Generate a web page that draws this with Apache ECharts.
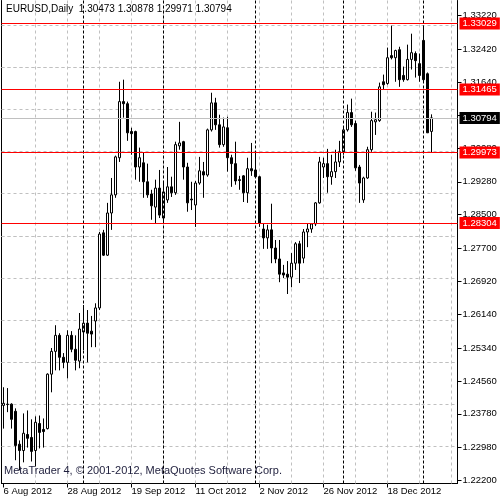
<!DOCTYPE html>
<html><head><meta charset="utf-8">
<script src="https://cdn.jsdelivr.net/npm/echarts/dist/echarts.min.js"></script>
<style>html,body{margin:0;padding:0;background:#fff}#c{width:500px;height:500px}</style>
</head><body><div id="c"></div>
<script>
const dates = [
'6 Aug 2012','7 Aug 2012','8 Aug 2012','9 Aug 2012','10 Aug 2012','13 Aug 2012','14 Aug 2012','15 Aug 2012','16 Aug 2012','17 Aug 2012',
'20 Aug 2012','21 Aug 2012','22 Aug 2012','23 Aug 2012','24 Aug 2012','27 Aug 2012','28 Aug 2012','29 Aug 2012','30 Aug 2012','31 Aug 2012',
'3 Sep 2012','4 Sep 2012','5 Sep 2012','6 Sep 2012','7 Sep 2012','10 Sep 2012','11 Sep 2012','12 Sep 2012','13 Sep 2012','14 Sep 2012',
'17 Sep 2012','18 Sep 2012','19 Sep 2012','20 Sep 2012','21 Sep 2012','24 Sep 2012','25 Sep 2012','26 Sep 2012','27 Sep 2012','28 Sep 2012',
'1 Oct 2012','2 Oct 2012','3 Oct 2012','4 Oct 2012','5 Oct 2012','8 Oct 2012','9 Oct 2012','10 Oct 2012','11 Oct 2012','12 Oct 2012',
'15 Oct 2012','16 Oct 2012','17 Oct 2012','18 Oct 2012','19 Oct 2012','22 Oct 2012','23 Oct 2012','24 Oct 2012','25 Oct 2012','26 Oct 2012',
'29 Oct 2012','30 Oct 2012','31 Oct 2012','1 Nov 2012','2 Nov 2012','5 Nov 2012','6 Nov 2012','7 Nov 2012','8 Nov 2012','9 Nov 2012',
'12 Nov 2012','13 Nov 2012','14 Nov 2012','15 Nov 2012','16 Nov 2012','19 Nov 2012','20 Nov 2012','21 Nov 2012','22 Nov 2012','23 Nov 2012',
'26 Nov 2012','27 Nov 2012','28 Nov 2012','29 Nov 2012','30 Nov 2012','3 Dec 2012','4 Dec 2012','5 Dec 2012','6 Dec 2012','7 Dec 2012',
'10 Dec 2012','11 Dec 2012','12 Dec 2012','13 Dec 2012','14 Dec 2012','17 Dec 2012','18 Dec 2012','19 Dec 2012','20 Dec 2012','21 Dec 2012',
'24 Dec 2012','26 Dec 2012','27 Dec 2012','28 Dec 2012','31 Dec 2012','2 Jan 2013','3 Jan 2013','4 Jan 2013','7 Jan 2013','8 Jan 2013',
'9 Jan 2013','10 Jan 2013','11 Jan 2013','14 Jan 2013'];

const open = [
1.2398,1.2401,1.2401,1.2384,1.2306,1.2291,1.2329,1.2322,1.2291,1.2355,
1.2341,1.2343,1.2472,1.2526,1.2564,1.2512,1.2500,1.2564,1.2531,1.2503,
1.2572,1.2593,1.2574,1.2598,1.2629,1.2807,1.2754,1.2854,1.2897,1.2985,
1.3118,1.3113,1.3047,1.3047,1.2963,1.2973,1.2928,1.2899,1.2868,1.2913,
1.2842,1.2885,1.2916,1.2902,1.3013,1.3023,1.2963,1.2887,1.2873,1.2925,
1.2952,1.2944,1.3051,1.3115,1.3063,1.3016,1.3056,1.2985,1.2971,1.2933,
1.2942,1.2902,1.2959,1.2956,1.2940,1.2816,1.2795,1.2814,1.2771,1.2745,
1.2712,1.2709,1.2702,1.2735,1.2781,1.2747,1.2809,1.2816,1.2828,1.2878,
1.2963,1.2971,1.2940,1.2952,1.2975,1.2999,1.3051,1.3092,1.3066,1.2963,
1.2885,1.2937,1.3004,1.3070,1.3073,1.3165,1.3161,1.3227,1.3222,1.3241,
1.3180,1.3170,1.3218,1.3232,1.3208,1.3263,1.3184,1.30473];
const high = [
1.2441,1.2439,1.2403,1.2391,1.2315,1.2379,1.2386,1.2365,1.2372,1.2374,
1.2367,1.2474,1.2534,1.2588,1.2569,1.2522,1.2576,1.2574,1.2564,1.2617,
1.2636,1.2624,1.2610,1.2640,1.2809,1.2814,1.2878,1.2937,1.2990,1.3165,
1.3170,1.3118,1.3056,1.3049,1.3009,1.2997,1.2971,1.2909,1.2933,1.2956,
1.2928,1.2963,1.2940,1.3023,1.3070,1.3025,1.2973,1.2928,1.2930,1.2987,
1.2975,1.3054,1.3139,1.3127,1.3087,1.3080,1.3082,1.2992,1.3023,1.2942,
1.2944,1.2985,1.3020,1.2999,1.2942,1.2830,1.2826,1.2876,1.2790,1.2790,
1.2731,1.2740,1.2759,1.2785,1.2788,1.2816,1.2830,1.2830,1.2880,1.2987,
1.2985,1.3006,1.2992,1.3004,1.3025,1.3056,1.3111,1.3125,1.3073,1.2968,
1.2940,1.3011,1.3094,1.3092,1.3163,1.3182,1.3246,1.3298,1.3241,1.3248,
1.3201,1.3253,1.3279,1.3237,1.3232,1.3298,1.3187,1.30878];
const low = [
1.2343,1.2382,1.2343,1.2268,1.2244,1.2263,1.2298,1.2265,1.2253,1.2296,
1.2298,1.2341,1.2429,1.2481,1.2481,1.2486,1.2462,1.2524,1.2481,1.2486,
1.2529,1.2500,1.2536,1.2536,1.2624,1.2752,1.2752,1.2814,1.2890,1.2975,
1.3080,1.3025,1.2992,1.2933,1.2928,1.2890,1.2890,1.2838,1.2830,1.2842,
1.2833,1.2878,1.2892,1.2897,1.3004,1.2933,1.2857,1.2861,1.2821,1.2921,
1.2890,1.2940,1.3047,1.3051,1.3009,1.3011,1.2952,1.2916,1.2921,1.2909,
1.2880,1.2878,1.2942,1.2937,1.2821,1.2769,1.2769,1.2735,1.2735,1.2690,
1.2700,1.2662,1.2678,1.2719,1.2688,1.2735,1.2773,1.2807,1.2823,1.2876,
1.2937,1.2902,1.2921,1.2937,1.2963,1.2992,1.3047,1.3058,1.2954,1.2878,
1.2878,1.2935,1.2999,1.3039,1.3070,1.3146,1.3158,1.3218,1.3165,1.3153,
1.3165,1.3168,1.3194,1.3175,1.3165,1.3165,1.3044,1.29971];
const close = [
1.2403,1.2400,1.2365,1.2303,1.2291,1.2332,1.2320,1.2289,1.2358,1.2334,
1.2336,1.2472,1.2526,1.2564,1.2512,1.2500,1.2564,1.2531,1.2505,1.2579,
1.2593,1.2569,1.2567,1.2629,1.2804,1.2754,1.2854,1.2897,1.2987,1.3118,
1.3113,1.3044,1.3042,1.2963,1.2985,1.2928,1.2897,1.2871,1.2913,1.2849,
1.2904,1.2916,1.2902,1.3016,1.3020,1.2963,1.2878,1.2885,1.2925,1.2954,
1.2944,1.3051,1.3115,1.3063,1.3016,1.3058,1.2985,1.2971,1.2930,1.2931,
1.2902,1.2959,1.2954,1.2940,1.2830,1.2795,1.2814,1.2771,1.2745,1.2709,
1.2707,1.2702,1.2735,1.2781,1.2735,1.2809,1.2816,1.2828,1.2878,1.2975,
1.2971,1.2940,1.2952,1.2975,1.2999,1.3051,1.3092,1.3063,1.2961,1.2925,
1.2937,1.3004,1.3073,1.3075,1.3153,1.3158,1.3222,1.3222,1.3239,1.3170,
1.3170,1.3218,1.3234,1.3215,1.3180,1.3170,1.3044,1.30794];

const yTicks = [1.22200,1.22980,1.23780,1.24560,1.25340,1.26140,1.26920,1.27700,1.28500,1.29280,1.30080,1.30860,1.31640,1.32420,1.33220];
const levels = [1.33029, 1.31465, 1.29973, 1.28304];
const bid = 1.30794;
const monthStarts = ['3 Sep 2012','1 Oct 2012','1 Nov 2012','3 Dec 2012','2 Jan 2013'];
const symbolName = 'EURUSD,Daily';
const footer = 'MetaTrader 4, \u00A9 2001-2012, MetaQuotes Software Corp.';

const F = '"Liberation Sans", Arial, sans-serif';
const chart = echarts.init(document.getElementById('c'), null, {renderer: 'canvas'});
const last = open.length - 1;
const labelIdx = i => i % 16 === 0 && i <= 96;
const gridCats = dates.filter((d, i) => i > 0 && i % 8 === 0);

const option = {
  animation: false,
  backgroundColor: '#ffffff',
  title: [
    {text: symbolName + '  ' + [open[last], high[last], low[last], close[last]].map(v => v.toFixed(5)).join(' '),
     left: 6, top: 4, padding: 0,
     textStyle: {fontSize: 10, fontWeight: 'normal', color: '#000', fontFamily: F}},
    {text: footer, left: 4, top: 465, padding: 0,
     textStyle: {fontSize: 11, fontWeight: 'normal', color: '#1e1e3c', fontFamily: F}}
  ],
  grid: {left: 1.5, right: 42.5, top: 0.5, bottom: 16.5, containLabel: false},
  xAxis: {
    type: 'category', data: dates, boundaryGap: true,
    axisLine: {show: true, lineStyle: {color: '#000', width: 1}},
    axisTick: {show: true, alignWithLabel: true, interval: labelIdx, length: 4, lineStyle: {color: '#000'}},
    axisLabel: {interval: labelIdx, align: 'left', margin: 3, fontSize: 9.5, color: '#000', fontFamily: F},
    splitLine: {show: false}
  },
  yAxis: [
    {type: 'value', position: 'right', min: 1.2212875, max: 1.3357625, scale: true,
     axisLine: {show: true, lineStyle: {color: '#000', width: 1}},
     axisTick: {show: true, customValues: yTicks, length: 4, lineStyle: {color: '#000'}},
     axisLabel: {customValues: yTicks, margin: 5, fontSize: 9.5, color: '#000', fontFamily: F,
                 formatter: v => v.toFixed(5)},
     splitLine: {show: false}},
    {type: 'value', position: 'left', min: 1.2212875, max: 1.3357625, scale: true,
     axisLine: {show: true, lineStyle: {color: '#000', width: 1}},
     axisTick: {show: false}, axisLabel: {show: false}, splitLine: {show: false}}
  ],
  series: [
    {type: 'line', data: [], z: 1, silent: true,
     markLine: {silent: true, z: 1, symbol: 'none', animation: false, label: {show: false},
       lineStyle: {color: '#c0c0c0', type: [3, 3], width: 1},
       data: yTicks.map(v => ({yAxis: v})).concat(gridCats.map(c => ({xAxis: c})))}},
    {type: 'candlestick', z: 2, barWidth: 2, silent: true,
     data: open.map((o, i) => [o, close[i], low[i], high[i]]),
     itemStyle: {color: '#ffffff', color0: '#000000', borderColor: '#000000', borderColor0: '#000000',
                 borderColorDoji: '#000000', borderWidth: 1}},
    {type: 'line', data: [], z: 3, silent: true,
     markLine: {silent: true, z: 3, symbol: 'none', animation: false, label: {show: false},
       lineStyle: {color: '#000', type: [3, 2], width: 1},
       data: monthStarts.map(c => ({xAxis: c}))}},
    {type: 'line', data: [], z: 6, silent: true,
     markLine: {silent: true, z: 6, symbol: 'none', animation: false, precision: 5,
       data: [{yAxis: bid, lineStyle: {color: '#c0c0c0', type: 'solid', width: 1},
               label: {show: true, position: 'end', distance: 2, formatter: p => p.value.toFixed(5),
                       backgroundColor: '#000', color: '#fff', fontSize: 9.5, fontFamily: F, padding: [1, 3, 1, 3]}}]
         .concat(levels.map(v => ({yAxis: v, lineStyle: {color: '#ff0000', type: 'solid', width: 1},
               label: {show: true, position: 'end', distance: 2, formatter: p => p.value.toFixed(5),
                       backgroundColor: '#ff0000', color: '#fff', fontSize: 9.5, fontFamily: F, padding: [1, 3, 1, 3]}})))}}
  ]
};
chart.setOption(option);
</script></body></html>
